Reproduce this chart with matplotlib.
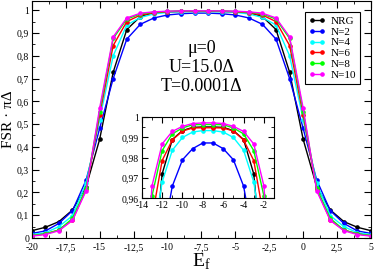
import matplotlib
matplotlib.use("Agg")
import matplotlib.pyplot as plt
from matplotlib.ticker import MultipleLocator, FuncFormatter

plt.rcParams['font.family'] = ['Liberation Serif', 'DejaVu Serif']

# E_f grid, curves are symmetric around E_f = -7.5
ef = list(range(-20, 6))

# values for E_f = -20 ... -8, mirrored for -7 ... 5
half_nrg = [0.032, 0.047, 0.072, 0.123, 0.225, 0.433, 0.728, 0.915, 0.972, 0.989, 0.9934, 0.9950, 0.9952]
half_n2 = [0.020, 0.031, 0.064, 0.120, 0.254, 0.481, 0.700, 0.873, 0.938, 0.966, 0.9790, 0.9845, 0.9873]
half_n4 = [0.015, 0.023, 0.050, 0.098, 0.240, 0.520, 0.800, 0.935, 0.968, 0.9837, 0.9900, 0.9927, 0.9934]
half_n6 = [0.010, 0.018, 0.035, 0.079, 0.213, 0.540, 0.845, 0.950, 0.9786, 0.9888, 0.9932, 0.9947, 0.9948]
half_n8 = [0.010, 0.018, 0.035, 0.086, 0.218, 0.555, 0.876, 0.961, 0.9835, 0.9918, 0.9947, 0.9963, 0.9964]
half_n10 = [0.008, 0.015, 0.032, 0.077, 0.207, 0.570, 0.883, 0.966, 0.9868, 0.9930, 0.9955, 0.9969, 0.9972]

labels = ["NRG", "N=2", "N=4", "N=6", "N=8", "N=10"]
colors = ["black", "#0000ff", "#00ffff", "#ff0000", "#00ff00", "#ff00ff"]
halves = [half_nrg, half_n2, half_n4, half_n6, half_n8, half_n10]


def full(h):
    return h + h[::-1]


def comma(v, pos):
    s = "%g" % round(v, 4)
    return s.replace(".", ",")


fig = plt.figure(figsize=(3.74, 2.72), dpi=100)
ax = fig.add_axes([0.085, 0.125, 0.907, 0.871])

for h, c, lab in zip(halves, colors, labels):
    ax.plot(ef, full(h), color=c, lw=1.0, marker="o", ms=2.3, label=lab)

ax.set_xlim(-20, 5)
ax.set_ylim(0, 1.04)
ax.xaxis.set_major_locator(MultipleLocator(2.5))
ax.xaxis.set_minor_locator(MultipleLocator(1.25))
ax.yaxis.set_major_locator(MultipleLocator(0.1))
ax.yaxis.set_minor_locator(MultipleLocator(0.05))
ax.xaxis.set_major_formatter(FuncFormatter(comma))
ax.yaxis.set_major_formatter(FuncFormatter(comma))
ax.tick_params(which="both", direction="in", top=True, right=True, labelsize=7, pad=2)
ax.tick_params(axis="x", which="major", pad=3.5)
ax.tick_params(which="major", length=5)
ax.tick_params(which="minor", length=2.5)
ax.set_xlabel("E$_\\mathregular{f}$", fontsize=14, labelpad=0)
ax.set_ylabel("FSR · πΔ", fontsize=11, labelpad=1)

leg = ax.legend(loc="upper right", bbox_to_anchor=(0.968, 0.954), borderaxespad=0,
                fontsize=8, numpoints=2, handlelength=1.5,
                fancybox=False, edgecolor="black", framealpha=1,
                labelspacing=0.1, handletextpad=0.5, borderpad=0.35)
leg.get_frame().set_linewidth(0.8)

ax.text(0.50, 0.78, "μ=0", transform=ax.transAxes, ha="center", fontsize=13)
ax.text(0.50, 0.70, "U=15.0Δ", transform=ax.transAxes, ha="center", fontsize=13)
ax.text(0.50, 0.622, "T=0.0001Δ", transform=ax.transAxes, ha="center", fontsize=13)

# inset zoom of the plateau
ins = fig.add_axes([0.379, 0.271, 0.354, 0.298])
for h, c in zip(halves, colors):
    ins.plot(ef, full(h), color=c, lw=1.0, marker="o", ms=2.3)
ins.set_xlim(-14, -1)
ins.set_ylim(0.96, 1.0)
ins.xaxis.set_major_locator(MultipleLocator(2))
ins.xaxis.set_minor_locator(MultipleLocator(1))
ins.yaxis.set_major_locator(MultipleLocator(0.01))
ins.yaxis.set_minor_locator(MultipleLocator(0.005))
ins.xaxis.set_major_formatter(FuncFormatter(comma))
ins.yaxis.set_major_formatter(FuncFormatter(comma))
ins.tick_params(which="both", direction="in", top=True, right=True, labelsize=7, pad=2)
ins.tick_params(which="major", length=4)
ins.tick_params(which="minor", length=2)

fig.savefig("out.png", dpi=100)
